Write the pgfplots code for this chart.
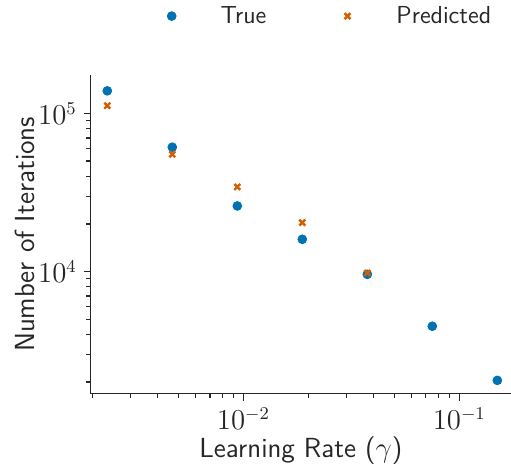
\documentclass[border=0pt]{standalone}
\usepackage{pgfplots}
\pgfplotsset{compat=1.18}
\definecolor{tblue}{HTML}{0072B2}
\definecolor{torange}{HTML}{D55E00}
\definecolor{txt}{gray}{0.15}
\begin{document}
\begin{tikzpicture}
\begin{axis}[
  name=ax,
  scale only axis, width=210pt, height=159.2pt,
  xmode=log, ymode=log,
  xmin=0.001965, xmax=0.1735, ymin=1690, ymax=1.75e5,
  axis lines=left,
  axis line style={-, txt, line width=0.6pt},
  tick align=outside,
  major tick length=3.5pt, minor tick length=2.3pt,
  tick style={txt, line width=0.6pt},
  every tick label/.append style={font=\fontsize{13.5}{16}\selectfont, text=txt},
  xlabel={Learning Rate ($\gamma$)},
  ylabel={Number of Iterations},
  xlabel shift=-3.5pt, ylabel shift=-5pt,
  label style={font=\sffamily\fontsize{13.8}{16}\selectfont, text=txt},
  legend columns=2,
  legend style={draw=none, fill=none, at={(0.953,1.185)}, anchor=east,
    inner sep=0pt, outer sep=0pt,
    font=\sffamily\fontsize{12.3}{15}\selectfont, text=txt,
    nodes={inner sep=0pt},
    /tikz/every even column/.append style={column sep=38.5pt}},
  legend image code/.code={\draw[#1] plot coordinates {(0pt,0pt)}; \path[draw=none,fill=none] (-2pt,-2pt) rectangle (24.5pt,2pt);},
]
\addplot[only marks, mark=*, mark size=2.2pt, color=tblue] coordinates {
  (0.00234375,1.39e5) (0.0046875,6.12e4) (0.009375,2.6e4) (0.01875,1.6e4)
  (0.0375,9.6e3) (0.075,4.51e3) (0.15,2.05e3)};
\addlegendentry{True}
\addplot[only marks, mark=x, mark size=2.1pt, color=torange, line width=1.2pt] coordinates {
  (0.00234375,1.12e5) (0.0046875,5.52e4) (0.009375,3.43e4) (0.01875,2.04e4)
  (0.0375,9.8e3)};
\addlegendentry{Predicted}
\end{axis}
\pgfresetboundingbox
\path[use as bounding box] ([shift={(-45.35pt,-37.35pt)}]ax.south west) rectangle ([shift={(0pt,37.5pt)}]ax.north east);
\end{tikzpicture}
\end{document}
